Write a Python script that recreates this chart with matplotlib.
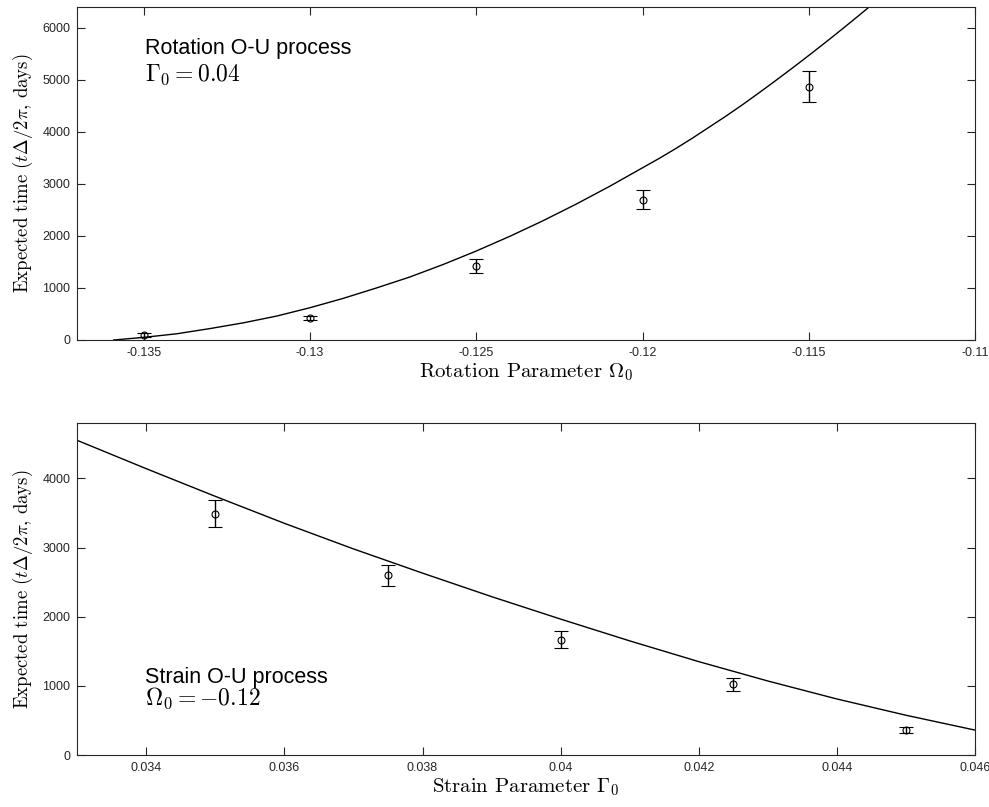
import matplotlib
matplotlib.use("Agg")
import matplotlib.pyplot as plt

plt.rcParams['mathtext.fontset'] = 'cm'
plt.rcParams['axes.unicode_minus'] = False

# rotation O-U process: simulated mean times and fitted curve
omega = [-0.135, -0.130, -0.125, -0.120, -0.115]
omega_time = [90, 420, 1420, 2700, 4870]
omega_err = [35, 40, 130, 190, 300]

omega_fit_x = [-0.1359, -0.135, -0.134, -0.133, -0.132, -0.131, -0.130, -0.129,
               -0.128, -0.127, -0.126, -0.125, -0.124, -0.123, -0.122, -0.121,
               -0.120, -0.1195, -0.119, -0.1185, -0.118, -0.1175, -0.117, -0.1165,
               -0.116, -0.1155, -0.115, -0.1145, -0.114, -0.1135, -0.113]
omega_fit_y = [0, 50, 120, 220, 330, 460, 620, 800,
               1000, 1210, 1450, 1710, 1990, 2290, 2610, 2950,
               3310, 3490, 3680, 3880, 4090, 4300, 4520, 4750,
               4985, 5225, 5470, 5720, 5975, 6235, 6500]

omega_ticks = [-0.135, -0.13, -0.125, -0.12, -0.115, -0.11]
omega_labels = ['-0.135', '-0.13', '-0.125', '-0.12', '-0.115', '-0.11']
omega_yticks = [0, 1000, 2000, 3000, 4000, 5000, 6000]

# strain O-U process
gamma = [0.035, 0.0375, 0.040, 0.0425, 0.045]
gamma_time = [3490, 2600, 1670, 1020, 360]
gamma_err = [190, 150, 120, 90, 40]

gamma_fit_x = [0.033, 0.034, 0.035, 0.036, 0.037, 0.038, 0.039, 0.040,
               0.041, 0.042, 0.043, 0.044, 0.045, 0.046]
gamma_fit_y = [4550, 4140, 3740, 3350, 2980, 2630, 2290, 1965,
               1650, 1350, 1070, 810, 575, 360]

gamma_ticks = [0.034, 0.036, 0.038, 0.04, 0.042, 0.044, 0.046]
gamma_labels = ['0.034', '0.036', '0.038', '0.04', '0.042', '0.044', '0.046']
gamma_yticks = [0, 1000, 2000, 3000, 4000]

SANS = 'Liberation Sans'
SERIF = 'cmr10'
AX_COLOR = '#262626'


def style_axes(ax):
    for s in ax.spines.values():
        s.set_color(AX_COLOR)
        s.set_linewidth(0.8)
    ax.tick_params(direction='in', top=True, right=True, length=6, width=0.8,
                   color=AX_COLOR, labelcolor=AX_COLOR, labelsize=9, pad=5)
    for lab in ax.get_xticklabels() + ax.get_yticklabels():
        lab.set_fontfamily(SANS)


def draw_panel(ax, fx, fy, x, y, err):
    ax.plot(fx, fy, color='black', linewidth=1.0)
    ax.errorbar(x, y, yerr=err, fmt='o', color='black', mfc='none',
                markersize=5, markeredgewidth=0.8, elinewidth=1.0,
                capsize=5, capthick=1.0)


fig = plt.figure(figsize=(9.89, 8.07), dpi=100)
ax1 = fig.add_axes([0.078, 0.5787, 0.908, 0.4126])
ax2 = fig.add_axes([0.078, 0.0644, 0.908, 0.4114])

draw_panel(ax1, omega_fit_x, omega_fit_y, omega, omega_time, omega_err)
ax1.set_xlim(-0.137, -0.11)
ax1.set_ylim(0, 6400)
ax1.set_xticks(omega_ticks, omega_labels)
ax1.set_yticks(omega_yticks, [str(v) for v in omega_yticks])
ax1.set_xlabel(r'Rotation Parameter $\Omega_0$', fontfamily=SERIF, fontsize=15, labelpad=2)
ax1.set_ylabel(r'Expected time ($t\Delta/2\pi$, days)', fontfamily=SERIF, fontsize=13.5, labelpad=5)
ax1.text(0.076, 0.875, 'Rotation O-U process', transform=ax1.transAxes,
         fontfamily=SANS, fontsize=15.5, va='center')
ax1.text(0.076, 0.795, r'$\Gamma_0 = 0.04$', transform=ax1.transAxes,
         fontsize=17, va='center')
style_axes(ax1)

draw_panel(ax2, gamma_fit_x, gamma_fit_y, gamma, gamma_time, gamma_err)
ax2.set_xlim(0.033, 0.046)
ax2.set_ylim(0, 4800)
ax2.set_xticks(gamma_ticks, gamma_labels)
ax2.set_yticks(gamma_yticks, [str(v) for v in gamma_yticks])
ax2.set_xlabel(r'Strain Parameter $\Gamma_0$', fontfamily=SERIF, fontsize=15, labelpad=2)
ax2.set_ylabel(r'Expected time ($t\Delta/2\pi$, days)', fontfamily=SERIF, fontsize=13.5, labelpad=5)
ax2.text(0.076, 0.235, 'Strain O-U process', transform=ax2.transAxes,
         fontfamily=SANS, fontsize=15.5, va='center')
ax2.text(0.076, 0.17, r'$\Omega_0 = -0.12$', transform=ax2.transAxes,
         fontsize=17, va='center')
style_axes(ax2)

fig.savefig('out.png', dpi=100)
plt.close(fig)
